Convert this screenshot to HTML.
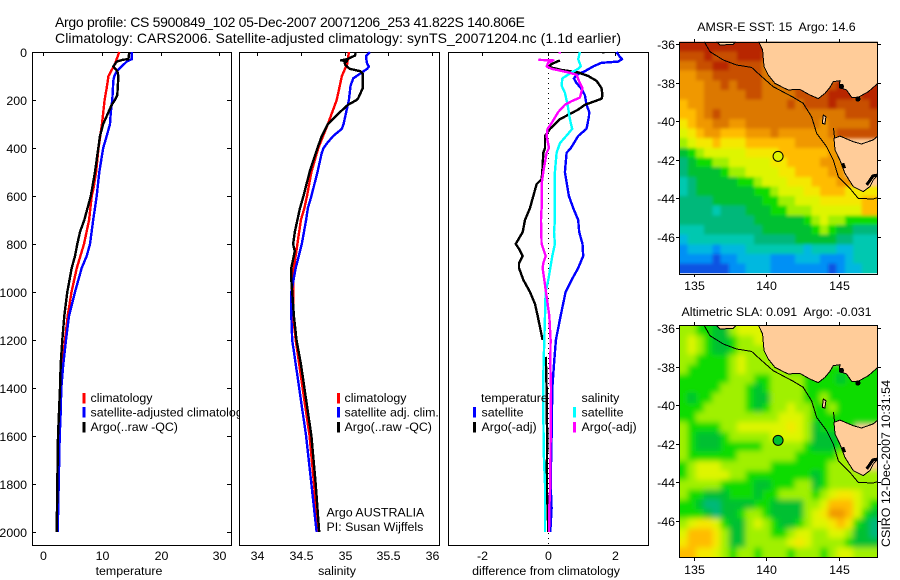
<!DOCTYPE html>
<html lang="en">
<head>
<meta charset="utf-8">
<title>Argo profile</title>
<style>
html,body{margin:0;padding:0;background:#fff;}
svg{display:block;}
text{font-family:"Liberation Sans",sans-serif;font-size:12.4px;fill:#000;white-space:pre;}
.title{font-size:14px;}
</style>
</head>
<body>
<svg id="chart" xmlns="http://www.w3.org/2000/svg" width="900" height="580" viewBox="0 0 900 580">
<defs>
<filter id="soft-sst" x="-5%" y="-5%" width="110%" height="110%"><feGaussianBlur stdDeviation="1.6"/></filter>
<filter id="soft-sla" x="-5%" y="-5%" width="110%" height="110%"><feGaussianBlur stdDeviation="2.8"/></filter>
</defs>
<rect x="0" y="0" width="900" height="580" fill="#fff"/>
<text class="title" x="55" y="27" textLength="470" lengthAdjust="spacing">Argo profile: CS 5900849_102 05-Dec-2007 20071206_253 41.822S 140.806E</text>
<text class="title" x="55" y="43" textLength="566" lengthAdjust="spacing">Climatology: CARS2006. Satellite-adjusted climatology: synTS_20071204.nc (1.1d earlier)</text>
<g id="panels"></g>
<g id="maps"></g>
<text transform="translate(890,547) rotate(-90)" textLength="167" lengthAdjust="spacing">CSIRO 12-Dec-2007 10:31:54</text>
</svg>
<script>
/* ---------- shared tick labels ---------- */
const depthTicks = [0, 200, 400, 600, 800, 1000, 1200, 1400, 1600, 1800, 2000];
const tempTicks = [0, 10, 20, 30];
const salTicks = [34, 34.5, 35, 35.5, 36];
const salTickLabels = ['34', '34.5', '35', '35.5', '36'];
const diffTicks = [-2, 0, 2];
const lonTicks = [135, 140, 145];
const latTicks = [-36, -38, -40, -42, -44, -46];

/* ---------- temperature profiles ---------- */
const tempClimDepth = [0, 50, 100, 150, 200, 300, 400, 500, 575, 600, 700, 800, 900, 1000, 1100, 1200, 1300, 1400, 1600, 1800, 2000];
const tempClimValue = [12.95, 12.2, 11.1, 10.8, 10.45, 10.0, 9.4, 9.0, 8.5, 8.25, 7.8, 6.93, 5.7, 4.8, 4.15, 3.7, 3.25, 3.0, 2.67, 2.45, 2.28];
const tempSatDepth = [0, 30, 40, 60, 80, 100, 120, 200, 250, 300, 350, 400, 500, 600, 700, 800, 850, 900, 1000, 1100, 1200, 1300, 1400, 1500, 1600, 1800, 2000];
const tempSatValue = [15.06, 15.06, 14.2, 13.35, 12.5, 12.1, 11.93, 11.76, 11.5, 11.36, 10.8, 10.2, 9.54, 9.1, 8.5, 7.96, 7.4, 6.54, 5.4, 4.38, 3.87, 3.4, 3.07, 2.96, 2.79, 2.62, 2.45];
const tempArgoDepth = [0, 30, 32, 40, 60, 80, 100, 180, 200, 220, 300, 350, 400, 500, 600, 700, 750, 800, 850, 900, 1000, 1100, 1200, 1300, 1400, 1500, 1600, 1800, 2000];
const tempArgoValue = [14.65, 14.5, 13.6, 12.5, 11.93, 12.6, 12.8, 12.6, 12.2, 11.65, 10.2, 9.66, 9.37, 8.8, 8.1, 6.98, 6.25, 5.8, 5.4, 4.84, 4.09, 3.58, 3.24, 2.96, 2.85, 2.67, 2.5, 2.39, 2.28];

/* ---------- salinity profiles ---------- */
const salClimDepth = [0, 50, 100, 150, 200, 250, 300, 400, 500, 600, 650, 700, 800, 900, 1000, 1100, 1200, 1300, 1400, 1600, 1800, 2000];
const salClimValue = [35.05, 35.03, 34.97, 34.94, 34.91, 34.86, 34.81, 34.7, 34.62, 34.57, 34.54, 34.5, 34.46, 34.42, 34.41, 34.41, 34.44, 34.48, 34.52, 34.6, 34.65, 34.7];
const salSatDepth = [0, 15, 30, 50, 60, 70, 90, 110, 140, 200, 250, 300, 320, 350, 380, 400, 420, 500, 600, 650, 700, 800, 900, 1000, 1100, 1200, 1300, 1400, 1600, 1800, 2000];
const salSatValue = [35.29, 35.25, 35.25, 35.26, 35.28, 35.26, 35.18, 35.1, 35.07, 35.05, 35.02, 34.99, 34.97, 34.87, 34.8, 34.76, 34.74, 34.69, 34.62, 34.58, 34.56, 34.51, 34.44, 34.39, 34.39, 34.4, 34.44, 34.48, 34.56, 34.62, 34.68];
const salArgoDepth = [0, 15, 25, 30, 35, 38, 45, 55, 70, 80, 90, 150, 190, 200, 220, 250, 300, 350, 400, 500, 600, 650, 700, 750, 800, 830, 900, 950, 1000, 1100, 1200, 1300, 1400, 1600, 1800, 2000];
const salArgoValue = [35.13, 35.12, 35.06, 35.03, 34.96, 35.03, 35.0, 35.01, 35.06, 35.18, 35.21, 35.21, 35.16, 35.14, 35.04, 34.95, 34.81, 34.74, 34.69, 34.6, 34.53, 34.49, 34.46, 34.43, 34.41, 34.43, 34.39, 34.39, 34.4, 34.42, 34.45, 34.5, 34.54, 34.62, 34.67, 34.71];

/* ---------- differences from climatology (null = no data) ---------- */
const diffTempSatDepth = [0, 20, 30, 40, 45, 60, 80, 95, 110, 130, 150, 180, 220, 250, 270, 300, 320, 350, 400, 420, 500, 600, 650, 700, 750, 800, 850, 900, 950, 1000, 1100, 1200, 1300, 1400, 1600, 1800, 1900, 2000];
const diffTempSatValue = [2.05, 2.15, 2.22, 2.1, 1.6, 1.35, 1.1, 0.85, 0.77, 0.85, 0.98, 1.1, 1.15, 1.23, 1.22, 1.18, 1.15, 0.9, 0.68, 0.55, 0.5, 0.62, 0.75, 0.9, 0.93, 1.03, 1.05, 0.9, 0.7, 0.52, 0.37, 0.23, 0.17, 0.12, 0.1, 0.07, 0.1, 0.06];
const diffTempArgoDepth = [0, 6, 7, 35, 50, 60, 65, 75, 85, 100, 120, 150, 180, 195, 210, 220, 240, 280, 320, 350, 400, 420, 500, 530, 550, 600, 650, 700, 750, 800, 820, 850, 880, 900, 950, 1000, 1050, 1100, 1200, 1240, 1270, 1300, 1400, 1500, 1600, 1800, 1900, 2000];
const diffTempArgoValue = [1.65, 1.65, null, 0.35, 0.1, 0.02, 0.1, 0.4, 0.9, 1.2, 1.45, 1.6, 1.63, 1.6, 1.3, 1.1, 0.9, 0.35, 0.05, -0.1, -0.1, -0.15, -0.18, -0.2, -0.35, -0.45, -0.55, -0.7, -0.77, -0.98, -0.88, -0.77, -0.88, -0.88, -0.75, -0.55, -0.4, -0.32, -0.17, null, -0.08, -0.07, -0.05, -0.05, -0.03, -0.05, -0.02, 0];
const diffSalSatDepth = [0, 30, 60, 70, 85, 110, 140, 170, 220, 280, 320, 340, 380, 420, 500, 650, 700, 750, 800, 850, 900, 950, 1000, 1100, 1200, 1300, 1350, 1400, 1500, 1600, 1700, 1800, 2000];
const diffSalSatValue = [0.95, 0.9, 0.98, 0.9, 0.7, 0.42, 0.4, 0.5, 0.58, 0.65, 0.72, 0.6, 0.35, 0.25, 0.2, 0.2, 0.2, 0.17, 0.2, 0.12, 0.06, 0, -0.08, -0.1, -0.12, -0.14, -0.15, -0.15, -0.15, -0.14, -0.13, -0.1, -0.1];
const diffSalArgoDepth = [0, 6, 7, 30, 33, 35, 45, 60, 70, 85, 95, 130, 150, 190, 205, 220, 250, 300, 320, 350, 400, 420, 500, 550, 650, 700, 800, 820, 850, 880, 900, 950, 1000, 1100, 1200, 1300, 1400, 1600, 1800, 1900, 2000];
const diffSalArgoValue = [0.35, 0.35, null, -0.25, -0.27, 0.15, 0, -0.05, 0.1, 0.6, 0.85, 0.95, 1.03, 0.95, 0.7, 0.5, 0.3, 0.08, -0.02, -0.05, 0.02, -0.05, -0.15, -0.2, -0.2, -0.22, -0.2, -0.15, -0.08, -0.15, -0.17, -0.12, -0.07, 0.03, 0.07, 0.06, 0.08, 0.07, 0.06, 0.03, 0.02];

/* ---------- map grids: colour-class index per cell, north to south, west to east ---------- */
const sstGrid = [
[14,14,14,14,14,14,14,14,14,14,14,13],
[13,13,13,14,13,13,13,14,14,14,13,12],
[12,12,13,13,14,14,13,13,13,13,12,11],
[11,11,12,12,13,13,13,13,13,13,12,12,12],
[11,11,11,12,12,13,12,13,13,13,12,12,12,13,13,13,13,13,13,14,14,14,13,14],
[11,11,11,12,12,12,12,12,13,13,12,12,12,12,13,13,13,13,14,14,14,13,14,14],
[10,11,11,12,12,12,12,12,12,12,12,12,12,13,12,13,13,13,14,13,13,13,13,14],
[10,10,11,12,13,12,12,12,12,12,12,12,12,12,12,12,12,12,12,12,13,13,13,13],
[9,10,11,11,12,12,11,11,12,12,12,12,12,12,12,12,12,11,12,12,12,12,12,13],
[8,9,10,11,11,10,10,10,11,11,11,12,11,11,11,11,11,11,12,13,13,13,13,13],
[7,8,9,9,10,9,9,9,10,10,10,10,10,10,11,11,11,11,11,11],
[5,6,7,8,8,8,8,8,9,9,9,9,10,10,10,10,10,10,11,11],
[4,5,6,6,7,7,8,8,8,8,8,9,9,10,10,10,10,11,11,11],
[4,5,5,5,5,6,7,7,8,8,8,8,9,9,10,10,10,10,11,11],
[3,4,5,5,5,5,5,6,6,7,8,8,8,9,9,9,10,10,10,11,11],
[3,4,5,5,5,5,5,5,5,6,6,7,8,8,8,9,9,10,10,10,9,9,9,9],
[4,4,4,4,5,5,5,5,5,5,6,6,7,7,8,8,8,9,9,9,9,9,10,10],
[4,4,4,4,3,4,4,4,5,5,5,6,6,7,7,7,8,8,8,8,8,8,10,10],
[4,4,4,4,4,4,4,4,4,5,5,5,5,5,5,6,7,8,7,7,6,6,6,6],
[3,3,3,4,4,4,4,4,4,4,5,5,5,5,5,5,6,7,6,5,5,4,4,4],
[2,3,3,3,3,3,3,3,3,4,4,4,4,4,5,5,5,5,5,4,4,3,3,3],
[1,2,2,2,1,2,2,2,3,3,3,3,3,3,3,2,3,3,3,2,2,3,3,3],
[1,1,1,1,0,1,1,2,2,2,2,1,1,1,2,2,2,1,1,1,2,3,3,3],
[0,0,0,0,0,0,1,1,2,2,2,1,1,1,1,1,1,1,0,1,2,2,3,3]
];
const slaGrid = [
[7,7,6,6,5,5,7,8,8,8,8,8],
[7,8,7,6,5,5,6,7,7,8,8,7],
[7,8,7,6,5,5,6,7,7,7,7,7,7],
[7,7,6,6,6,6,7,8,7,7,7,7,7,6],
[7,6,6,6,6,6,7,8,7,7,7,7,7,6,6,6,6,6,6,6,6,6,6,6],
[6,6,6,6,6,6,7,7,7,6,6,7,7,7,7,6,6,6,6,5,6,6,6,6],
[6,6,6,6,6,7,7,7,6,5,6,7,7,7,7,6,6,6,6,6,6,6,6,6],
[6,5,6,6,7,7,7,7,6,5,5,7,7,7,7,6,6,7,6,6,6,6,6,6],
[6,6,6,7,7,7,7,7,6,5,6,7,7,8,7,7,6,6,7,6,6,6,6,6],
[6,6,7,7,7,7,7,7,7,7,7,7,8,8,8,7,6,6,6,6,6,6,6,6],
[7,6,6,6,6,7,7,8,8,8,8,8,8,9,8,7,5,6,6,6,6],
[7,6,5,5,5,6,7,7,7,7,7,8,8,8,8,7,5,5,5,6,7],
[7,6,5,5,5,6,6,6,6,6,7,7,7,7,7,6,5,5,5,6,7],
[7,6,6,6,6,6,6,7,7,7,7,7,7,7,6,6,6,6,6,7,7],
[6,7,8,8,8,7,7,7,7,7,7,6,6,6,6,6,6,6,7,7,7],
[6,7,8,8,8,8,7,7,6,6,6,6,6,6,6,6,5,6,7,7,7,7,7,7],
[7,7,7,7,7,6,6,6,6,5,5,6,6,6,7,7,5,6,7,7,7,7,7,7],
[7,6,6,5,5,5,6,6,6,5,6,6,7,7,7,7,6,7,8,9,9,8,7,7],
[6,6,5,4,4,5,5,5,5,6,6,5,5,5,5,7,7,8,10,10,10,8,7,6],
[6,6,6,5,4,5,5,6,7,7,6,5,5,5,5,7,8,9,11,11,10,8,6,5],
[7,8,9,9,8,6,5,5,7,8,7,6,5,5,6,7,8,8,9,10,9,6,5,4],
[8,10,10,10,9,7,5,5,7,7,7,6,6,7,8,8,7,7,8,8,7,5,5,4],
[9,10,10,10,9,7,5,5,7,7,7,7,7,8,9,8,7,7,7,7,6,5,5,5],
[10,10,9,9,8,7,6,7,7,6,7,7,7,6,7,7,7,6,7,8,8,7,7,7]
];

/* ---------- geography (longitude east, latitude south) ---------- */
const mainlandLon = [139.46,139.73,139.83,140.13,140.59,141.28,141.51,142.32,143.01,143.59,144.05,144.40,144.63,145.09,145.05,145.55,145.90,146.36,147.06,147.72,147.72];
const mainlandLat = [35.88,36.31,37.17,37.61,38.04,38.30,38.38,38.35,38.64,38.83,38.56,38.25,37.95,37.90,38.25,38.38,38.76,38.76,38.47,38.04,35.88];
const tasmaniaLon = [144.68,145.09,146.02,146.59,147.40,147.72,147.72,147.40,147.17,146.71,146.02,145.44,145.09,144.75];
const tasmaniaLat = [40.89,40.77,41.06,41.18,40.97,40.77,42.79,43.05,43.39,43.65,43.39,42.70,42.01,41.49];
const kingIslandLon = [143.94,144.12,144.05,143.87];
const kingIslandLat = [39.68,39.77,40.15,40.11];
const kangarooLon = [136.55,136.78,137.70,137.86];
const kangarooLat = [35.88,36.05,36.02,35.88];
const contourLon = [135.69,136.09,137.01,137.93,138.97,139.55,140.47,141.86,142.55,143.13,143.48,144.17,144.63,144.98,145.79,146.36,147.40,147.72];
const contourLat = [35.88,36.40,36.83,37.09,37.21,37.61,38.21,38.76,39.07,39.77,40.63,41.32,42.01,42.87,43.48,44.00,44.03,43.96];
const northwestIslesLon = [144.65,144.72];
const northwestIslesLat = [40.35,40.89];
const tasEastCoastLon = [146.95,147.18,147.38,147.66];
const tasEastCoastLat = [43.30,43.05,42.84,42.79];
const tasWestCoastLon = [145.30,145.44];
const tasWestCoastLat = [42.17,42.43];
const bayLon = [145.2,146.34];
const bayLat = [38.2,38.85];
const argoLon = [140.806];
const argoLat = [41.822];

const NS = 'http://www.w3.org/2000/svg';
const RED = '#ff0000', BLUE = '#0000ff', BLACK = '#000000', CYAN = '#00ffff', MAGENTA = '#ff00ff';
const classColors = ['#0a52e2','#0090f5','#00b8e0','#00c8b0','#00b87a','#00c030','#10dc00','#a0f000','#def500','#f5e800','#ffbc00','#f09800','#dc7800','#c85000','#b82800'];
const LINE_WIDTH = 2.4;

function el(parent, tag, attrs, text) {
  const e = document.createElementNS(NS, tag);
  for (const k in attrs) e.setAttribute(k, attrs[k]);
  if (text !== undefined) e.textContent = text;
  parent.appendChild(e);
  return e;
}

/* axis functions */
const depthY = d => 52 + 0.24 * d;
const tempX = v => 43.3 + 5.87 * v;
const salX = v => 257.3 + 87.2 * (v - 34);
const diffX = v => 548.3 + 33.25 * v;

const panelsG = document.getElementById('panels');
const mapsG = document.getElementById('maps');

function drawFrame(parent, name, x0, y0, x1, y1) {
  const f = el(parent, 'rect', {x: x0 + 0.5, y: y0 + 0.5, width: x1 - x0, height: y1 - y0, fill: '#fff', stroke: '#000', 'stroke-width': 1, 'shape-rendering': 'crispEdges'});
  
  
}

function drawXAxis(parent, ticks, labels, scale, y0, y1, labelY) {
  ticks.forEach((t, i) => {
    const px = Math.round(scale(t)) + 0.5;
    const tick = el(parent, 'line', {x1: px, x2: px, y1: y0, y2: y0 + 4, stroke: '#000', 'shape-rendering': 'crispEdges'});
    
    
    const lab = el(parent, 'text', {x: px, y: labelY, 'text-anchor': 'middle'}, labels[i]);
    
    
  });
}

function drawSeries(parent, name, depths, values, scale, color, width) {
  let run = [];
  const flush = () => {
    if (run.length > 1) {
      const line = el(parent, 'polyline', {points: run.join(' '), fill: 'none', stroke: color, 'stroke-width': width, 'shape-rendering': 'crispEdges', 'stroke-linejoin': 'round'});
      
      
    }
    run = [];
  };
  depths.forEach((d, i) => {
    if (values[i] === null) { flush(); return; }
    run.push(scale(values[i]).toFixed(1) + ',' + depthY(d).toFixed(1));
  });
  flush();
}

function drawText(parent, name, x, y, str, anchor) {
  const t = el(parent, 'text', {x: x, y: y, 'text-anchor': anchor || 'start'}, str);
  
  
}

function legendKey(parent, name, x, y, color) {
  const k = el(parent, 'rect', {x: x - 1, y: y, width: 3, height: 10.5, fill: color, 'shape-rendering': 'crispEdges'});
  
  
}

/* ----- temperature panel ----- */
const p1 = el(panelsG, 'g', {});


drawFrame(p1, 'temperature-plot-frame', 32, 52, 231, 545);
drawXAxis(p1, tempTicks, tempTicks.map(String), tempX, 52, 545, 560);
depthTicks.forEach(d => {
  const py = Math.round(depthY(d)) + 0.5;
  const a = el(p1, 'path', {d: 'M32 ' + py + 'h4M231 ' + py + 'h-4', stroke: '#000', 'shape-rendering': 'crispEdges'});
  
  
  drawText(p1, 'depth-axis-tick-label', 27, py + 4.5, String(d), 'end');
});
drawSeries(p1, 'temperature-climatology-line', tempClimDepth, tempClimValue, tempX, RED, LINE_WIDTH);
drawSeries(p1, 'temperature-satellite-line', tempSatDepth, tempSatValue, tempX, BLUE, LINE_WIDTH);
drawSeries(p1, 'temperature-argo-line', tempArgoDepth, tempArgoValue, tempX, BLACK, LINE_WIDTH);
legendKey(p1, 'legend-key-climatology', 83.5, 393, RED);
legendKey(p1, 'legend-key-satellite-adjusted', 83.5, 407, BLUE);
legendKey(p1, 'legend-key-argo', 83.5, 422, BLACK);
drawText(p1, 'legend-label-climatology', 90.5, 402, 'climatology');
drawText(p1, 'legend-label-satellite-adjusted', 90.5, 416.5, 'satellite-adjusted climatology');
drawText(p1, 'legend-label-argo', 90.5, 431, 'Argo(..raw -QC)');
drawText(p1, 'temperature-axis-title', 129, 575, 'temperature', 'middle');

/* ----- salinity panel ----- */
const p2 = el(panelsG, 'g', {});


drawFrame(p2, 'salinity-plot-frame', 239, 52, 439, 545);
drawXAxis(p2, salTicks, salTickLabels, salX, 52, 545, 560);
drawSeries(p2, 'salinity-climatology-line', salClimDepth, salClimValue, salX, RED, LINE_WIDTH);
drawSeries(p2, 'salinity-satellite-line', salSatDepth, salSatValue, salX, BLUE, LINE_WIDTH);
drawSeries(p2, 'salinity-argo-line', salArgoDepth, salArgoValue, salX, BLACK, LINE_WIDTH);
legendKey(p2, 'legend-key-climatology', 338, 393, RED);
legendKey(p2, 'legend-key-satellite-adjusted', 338, 407, BLUE);
legendKey(p2, 'legend-key-argo', 338, 422, BLACK);
drawText(p2, 'legend-label-climatology', 344.5, 402, 'climatology');
drawText(p2, 'legend-label-satellite-adjusted', 344.5, 416.5, 'satellite adj. clim.');
drawText(p2, 'legend-label-argo', 344.5, 431, 'Argo(..raw -QC)');
drawText(p2, 'argo-country-label', 326.5, 516.5, 'Argo AUSTRALIA');
drawText(p2, 'principal-investigator-label', 326.5, 531, 'PI: Susan Wijffels');
drawText(p2, 'salinity-axis-title', 337, 575, 'salinity', 'middle');

/* ----- difference panel ----- */
const p3 = el(panelsG, 'g', {});


drawFrame(p3, 'difference-plot-frame', 448, 52, 648, 545);
drawXAxis(p3, diffTicks, diffTicks.map(String), diffX, 52, 545, 560);
const zeroLine = el(p3, 'line', {x1: 548.5, x2: 548.5, y1: 53, y2: 545, stroke: '#000', 'stroke-dasharray': '1 4', 'shape-rendering': 'crispEdges'});


drawSeries(p3, 'difference-temperature-satellite-line', diffTempSatDepth, diffTempSatValue, diffX, BLUE, LINE_WIDTH);
drawSeries(p3, 'difference-temperature-argo-line', diffTempArgoDepth, diffTempArgoValue, diffX, BLACK, LINE_WIDTH);
drawSeries(p3, 'difference-salinity-satellite-line', diffSalSatDepth, diffSalSatValue, diffX, CYAN, LINE_WIDTH);
drawSeries(p3, 'difference-salinity-argo-line', diffSalArgoDepth, diffSalArgoValue, diffX, MAGENTA, LINE_WIDTH);
drawText(p3, 'legend-heading-temperature', 481, 402, 'temperature');
drawText(p3, 'legend-heading-salinity', 581.5, 402, 'salinity');
legendKey(p3, 'legend-key-temperature-satellite', 474, 407, BLUE);
legendKey(p3, 'legend-key-temperature-argo', 474, 422, BLACK);
legendKey(p3, 'legend-key-salinity-satellite', 574, 407, CYAN);
legendKey(p3, 'legend-key-salinity-argo', 574, 422, MAGENTA);
drawText(p3, 'legend-label-temperature-satellite', 481.5, 416.5, 'satellite');
drawText(p3, 'legend-label-temperature-argo', 481.5, 431, 'Argo(-adj)');
drawText(p3, 'legend-label-salinity-satellite', 581.5, 416.5, 'satellite');
drawText(p3, 'legend-label-salinity-argo', 581.5, 431, 'Argo(-adj)');
drawText(p3, 'difference-axis-title', 546, 575, 'difference from climatology', 'middle');

/* ----- maps ----- */
const LON_MIN = 133.96, LON_MAX = 147.72, LAT_TOP = 35.88, LAT_BOTTOM = 47.88;
const lonX = lon => 694.3 + 14.43 * (lon - 135);
const defs = document.querySelector('defs');

function polyPoints(lons, lats, latY) {
  return lons.map((lon, i) => lonX(lon).toFixed(1) + ',' + latY(lats[i]).toFixed(1)).join(' ');
}

function drawMap(name, grid, top, lat36Y, titleText, titleY, labelY, argoClass, filterId) {
  const latY = lat => lat36Y + 19.3 * (lat - 36);
  const g = el(mapsG, 'g', {});
  
  
  const bottom = latY(LAT_BOTTOM);
  const left = lonX(LON_MIN), right = lonX(LON_MAX);
  const clip = el(defs, 'clipPath', {id: name + '-clip'});
  el(clip, 'rect', {x: left, y: top, width: right - left, height: bottom - top});
  const clipped = el(g, 'g', {'clip-path': 'url(#' + name + '-clip)'});
  
  
  const bg = el(clipped, 'rect', {x: left, y: top, width: right - left, height: bottom - top, fill: '#ffcc99'});
  
  
  const cells = el(clipped, 'g', {filter: 'url(#' + filterId + ')'});
  
  
  const dLon = (LON_MAX - LON_MIN) / 24, dLat = (LAT_BOTTOM - LAT_TOP) / grid.length;
  grid.forEach((row, r) => {
    row.forEach((v, c) => {
      let x0 = lonX(LON_MIN + c * dLon), x1 = lonX(LON_MIN + (c + 1) * dLon);
      let y0 = latY(LAT_TOP + r * dLat), y1 = latY(LAT_TOP + (r + 1) * dLat);
      /* outer cells bleed past the frame so the soft edge stays hidden by the clip */
      if (c === 0) x0 -= 12;
      if (c === 23) x1 += 12;
      if (r === 0) y0 -= 12;
      if (r === grid.length - 1) y1 += 12;
      const cell = el(cells, 'rect', {x: x0.toFixed(2), y: y0.toFixed(2), width: (x1 - x0 + 0.4).toFixed(2), height: (y1 - y0 + 0.4).toFixed(2), fill: classColors[v], 'shape-rendering': 'crispEdges'});
      
      
    });
  });
  const lands = [['mainland', mainlandLon, mainlandLat], ['tasmania', tasmaniaLon, tasmaniaLat], ['king-island', kingIslandLon, kingIslandLat], ['kangaroo-island', kangarooLon, kangarooLat]];
  lands.forEach(l => {
    const poly = el(clipped, 'polygon', {points: polyPoints(l[1], l[2], latY), fill: '#ffcc99', stroke: '#000', 'stroke-width': 1, 'shape-rendering': 'crispEdges'});
    
    
  });
  const roughCoasts = [['northwest-isles', northwestIslesLon, northwestIslesLat, 1], ['tasmania-east-coast', tasEastCoastLon, tasEastCoastLat, 3], ['tasmania-west-coast', tasWestCoastLon, tasWestCoastLat, 2.5]];
  roughCoasts.forEach(l => {
    const rough = el(clipped, 'polyline', {points: polyPoints(l[1], l[2], latY), fill: 'none', stroke: '#000', 'stroke-width': l[3], 'shape-rendering': 'crispEdges'});
    
    
  });
  bayLon.forEach((lon, i) => {
    const bay = el(clipped, 'circle', {cx: lonX(lon), cy: latY(bayLat[i]), r: 2.6, fill: '#000', 'shape-rendering': 'crispEdges'});
    
    
  });
  const contour = el(clipped, 'polyline', {points: polyPoints(contourLon, contourLat, latY), fill: 'none', stroke: '#000', 'stroke-width': 1, 'shape-rendering': 'crispEdges'});
  
  
  const dot = el(g, 'circle', {cx: lonX(argoLon[0]), cy: latY(argoLat[0]), r: 5, fill: classColors[argoClass], stroke: '#000', 'stroke-width': 1});
  
  
  const frame = el(g, 'rect', {x: 679.5, y: Math.round(top) + 0.5, width: 198, height: Math.round(bottom - top), fill: 'none', stroke: '#000', 'shape-rendering': 'crispEdges'});
  
  
  lonTicks.forEach(lon => {
    const px = Math.round(lonX(lon)) + 0.5;
    const tick = el(g, 'path', {d: 'M' + px + ' ' + (Math.round(top) - 3) + 'v3M' + px + ' ' + (Math.round(bottom) + 1) + 'v3', stroke: '#000', 'shape-rendering': 'crispEdges'});
    
    
    drawText(g, 'longitude-tick-label', px, labelY, String(lon), 'middle');
  });
  latTicks.forEach(lat => {
    const py = Math.round(latY(-lat)) + 0.5;
    const tick = el(g, 'path', {d: 'M676 ' + py + 'h3M878 ' + py + 'h3', stroke: '#000', 'shape-rendering': 'crispEdges'});
    
    
    drawText(g, 'latitude-tick-label', 675, py + 4.5, String(lat), 'end');
  });
  drawText(g, name + '-title', 776.5, titleY, titleText, 'middle');
}

drawMap('sst-map', sstGrid, 41.7, 44, 'AMSR-E SST: 15  Argo: 14.6', 31, 290, 8, 'soft-sst');
drawMap('sla-map', slaGrid, 325, 328, 'Altimetric SLA: 0.091  Argo: -0.031', 316, 574, 5, 'soft-sla');
</script>
</body>
</html>
